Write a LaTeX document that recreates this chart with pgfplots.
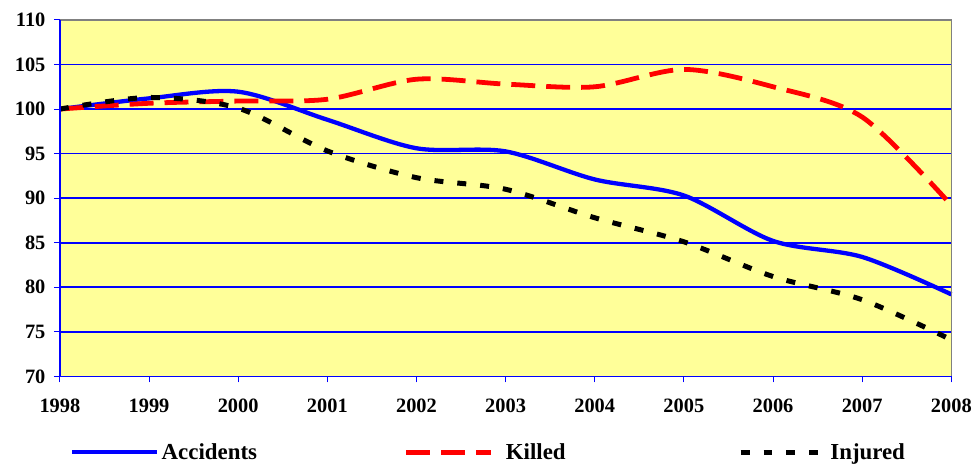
\documentclass[border=0pt]{standalone}
\usepackage{fontspec}
\setmainfont{Liberation Serif}
\usepackage{pgfplots}
\pgfplotsset{compat=1.18}
\definecolor{bgyellow}{HTML}{FFFF99}
\begin{document}
\begin{tikzpicture}
\begin{axis}[name=ax, scale only axis, width=893bp, height=357bp,
  xmin=1998, xmax=2008, ymin=70, ymax=110,
  xtick={1998,1999,...,2008}, ytick={70,75,...,110},
  axis background/.style={fill=bgyellow},
  axis line style={draw=none},
  ymajorgrids, grid style={blue, line width=1.7bp},
  tick align=outside, xtick pos=bottom, ytick pos=left,
  major tick length=6bp, tick style={blue, line width=1bp},
  /pgf/number format/assume math mode=true, /pgf/number format/1000 sep={},
  tick label style={font=\fontsize{20.5}{22}\selectfont\bfseries},
  xticklabel style={yshift=-13bp},
  yticklabel style={xshift=-5bp},
  legend style={at={(axis description cs:0.0112,-0.213)}, anchor=west, draw=none, fill=none,
    font=\fontsize{23}{26}\selectfont\bfseries, inner sep=0pt,
    nodes={inner sep=2.5bp},
    /tikz/every even column/.append style={column sep=0bp}},
  legend columns=3,
  legend image code/.code={\draw[#1] (0bp,0bp) -- (85bp,0bp);},
  clip=false,
]
\addplot[blue, line width=4.3bp, smooth] coordinates {
 (1998,100) (1999,101.2) (2000,101.95) (2001,98.8) (2002,95.6) (2003,95.25)
 (2004,92.1) (2005,90.3) (2006,85.2) (2007,83.4) (2008,79.2)};
\addlegendentry{\makebox[240bp][l]{Accidents}}
\addplot[red, line width=4.8bp, smooth, dash pattern=on 24bp off 11bp] coordinates {
 (1998,100) (1999,100.65) (2000,100.9) (2001,101.1) (2002,103.35) (2003,102.8)
 (2004,102.5) (2005,104.45) (2006,102.5) (2007,99.1) (2008,89.2)};
\addlegendentry{\makebox[240bp][l]{\hspace{10bp}Killed}}
\addplot[black, line width=5bp, smooth, dash pattern=on 9bp off 14bp] coordinates {
 (1998,100) (1999,101.3) (2000,100.1) (2001,95.3) (2002,92.3) (2003,91.0)
 (2004,87.8) (2005,85.1) (2006,81.2) (2007,78.6) (2008,74.1)};
\addlegendentry{Injured}
\draw[gray, line width=1.5bp] (rel axis cs:0,1) -- (rel axis cs:1,1) -- (rel axis cs:1,0);
\draw[blue, line width=1.5bp] (rel axis cs:0,1) -- (rel axis cs:0,0) -- (rel axis cs:1,0);
\end{axis}
\path (ax.south west) ++(-60bp,-87bp) coordinate (bbA);
\path (ax.north east) ++(22bp,20bp) coordinate (bbB);
\path (bbA) rectangle (bbB);
\end{tikzpicture}
\end{document}
